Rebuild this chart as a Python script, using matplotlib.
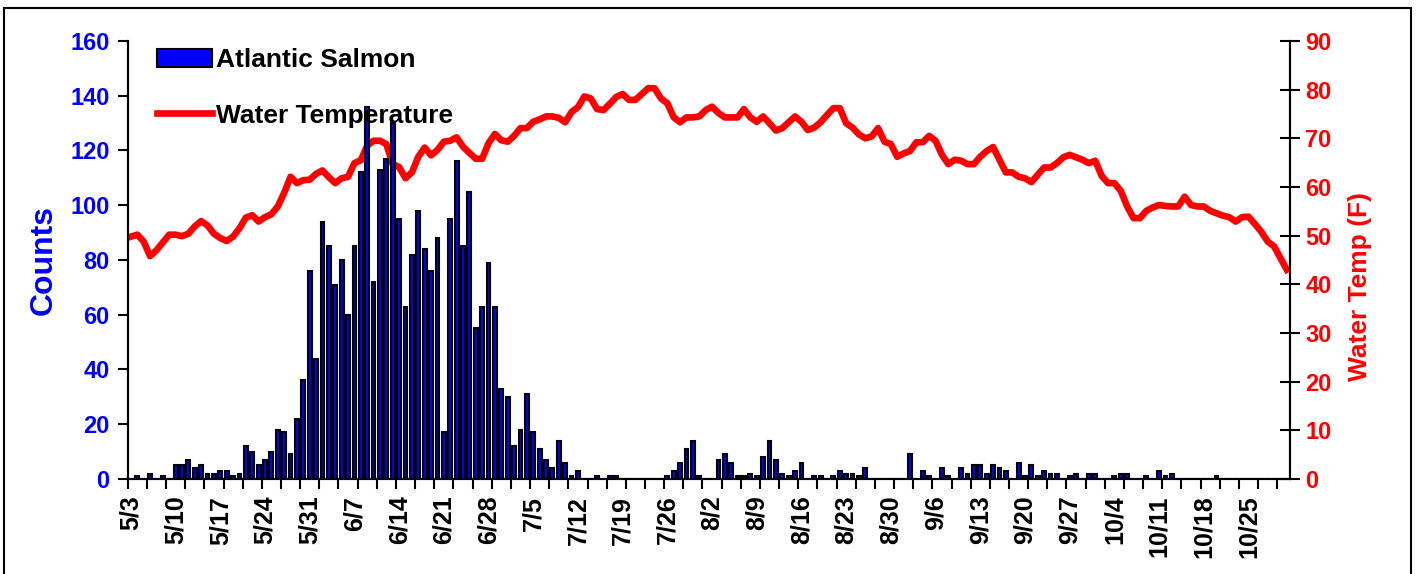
import numpy as np
import matplotlib
matplotlib.use("Agg")
import matplotlib.pyplot as plt
from matplotlib.patches import Rectangle
from matplotlib.ticker import FixedLocator

# daily data, 5/3 .. 10/31
counts = [
    0, 1, 0, 2, 0, 1, 0, 5, 5, 7,
    4, 5, 2, 2, 3, 3, 1, 2, 12, 10,
    5, 7, 10, 18, 17, 9, 22, 36, 76, 44,
    94, 85, 71, 80, 60, 85, 112, 136, 72, 113,
    117, 130, 95, 63, 82, 98, 84, 76, 88, 17,
    95, 116, 85, 105, 55, 63, 79, 63, 33, 30,
    12, 18, 31, 17, 11, 7, 4, 14, 6, 1,
    3, 0, 0, 1, 0, 1, 1, 0, 0, 0,
    0, 0, 0, 0, 1, 3, 6, 11, 14, 1,
    0, 0, 7, 9, 6, 1, 1, 2, 1, 8,
    14, 7, 2, 1, 3, 6, 0, 1, 1, 0,
    1, 3, 2, 2, 1, 4, 0, 0, 0, 0,
    0, 0, 9, 0, 3, 1, 0, 4, 1, 0,
    4, 2, 5, 5, 2, 5, 4, 3, 0, 6,
    1, 5, 1, 3, 2, 2, 0, 1, 2, 0,
    2, 2, 0, 0, 1, 2, 2, 0, 0, 1,
    0, 3, 1, 2, 0, 0, 0, 0, 0, 0,
    1, 0, 0, 0, 0, 0, 0, 0, 0, 0,
    0, 0,
]

water_temp = [
    49.8, 50.2, 48.8, 45.8, 47.0, 48.6, 50.2, 50.2, 49.9, 50.4,
    51.9, 53.0, 52.1, 50.4, 49.5, 48.9, 49.8, 51.5, 53.7, 54.2,
    52.9, 53.8, 54.4, 56.0, 58.8, 62.1, 60.8, 61.4, 61.5, 62.7,
    63.4, 62.0, 60.8, 61.8, 62.1, 64.9, 65.5, 68.5, 69.5, 69.5,
    68.8, 64.7, 64.1, 61.8, 63.0, 66.2, 68.1, 66.5, 67.6, 69.3,
    69.5, 70.2, 68.3, 67.0, 65.8, 65.8, 69.0, 70.9, 69.6, 69.3,
    70.5, 72.1, 72.1, 73.4, 73.9, 74.5, 74.5, 74.2, 73.3, 75.4,
    76.4, 78.6, 78.2, 76.0, 75.8, 77.1, 78.5, 79.1, 77.9, 77.9,
    79.1, 80.3, 80.3, 78.2, 77.2, 74.3, 73.3, 74.3, 74.3, 74.5,
    75.8, 76.5, 75.2, 74.3, 74.3, 74.3, 76.0, 74.3, 73.4, 74.5,
    73.1, 71.6, 72.1, 73.3, 74.5, 73.4, 71.7, 72.2, 73.3, 74.8,
    76.2, 76.2, 73.1, 72.2, 70.8, 70.0, 70.4, 72.1, 69.3, 68.8,
    66.2, 66.9, 67.4, 69.2, 69.2, 70.5, 69.5, 66.6, 64.7, 65.6,
    65.4, 64.7, 64.7, 66.2, 67.4, 68.2, 65.6, 63.0, 63.0, 62.1,
    61.8, 61.0, 62.5, 64.0, 64.0, 64.9, 66.1, 66.6, 66.1, 65.6,
    64.9, 65.4, 62.3, 60.8, 60.8, 59.2, 56.0, 53.6, 53.6, 55.1,
    55.8, 56.3, 56.1, 56.0, 56.0, 58.0, 56.3, 56.0, 56.0, 55.1,
    54.6, 54.1, 53.8, 52.9, 53.8, 53.9, 52.4, 50.8, 48.8, 47.8,
    45.4, 43.0,
]

week_labels = ["5/3", "5/10", "5/17", "5/24", "5/31", "6/7", "6/14", "6/21",
               "6/28", "7/5", "7/12", "7/19", "7/26", "8/2", "8/9", "8/16",
               "8/23", "8/30", "9/6", "9/13", "9/20", "9/27", "10/4", "10/11",
               "10/18", "10/25"]

plt.rcParams["font.family"] = ["Liberation Sans", "DejaVu Sans"]
plt.rcParams["font.weight"] = "bold"

days = np.arange(len(counts))

fig = plt.figure(figsize=(14.19, 5.74), dpi=100)
ax = fig.add_axes([0.0900, 0.1655, 0.8191, 0.7631])
ax2 = ax.twinx()

bars = ax.bar(days, counts, width=0.6, color="#0000FF", edgecolor="black",
              linewidth=1.5, label="Atlantic Salmon", zorder=2)
line, = ax2.plot(days, water_temp, color="#FF0000", linewidth=4.8,
                 label="Water Temperature", solid_joinstyle="round")

ax.set_xlim(-0.5, len(counts) - 0.5)
ax.set_ylim(0, 160)
ax2.set_ylim(0, 90)

# x axis: labels weekly, tick marks every 3 days on category edges
ax.set_xticks(np.arange(0, len(counts), 7))
ax.set_xticklabels(week_labels, rotation=90, va="top", ha="center",
                   fontsize=18, fontweight="bold")
ax.tick_params(axis="x", which="major", length=0, pad=12)
ax.xaxis.set_minor_locator(FixedLocator(np.arange(-0.5, len(counts), 3)))
ax.tick_params(axis="x", which="minor", length=7, width=1.5, direction="out")

ax.set_yticks(np.arange(0, 161, 20))
ax.tick_params(axis="y", length=7, width=1.5, direction="out", pad=6,
               labelsize=17, labelcolor="#0000FF")
ax2.set_yticks(np.arange(0, 91, 10))
ax2.tick_params(axis="y", length=14, width=1.5, direction="inout", pad=4,
                labelsize=17, labelcolor="#FF0000")

ax.set_ylabel("Counts", color="#0000FF", fontsize=23, fontweight="bold",
              labelpad=8)
ax2.set_ylabel("Water Temp (F)", color="#FF0000", fontsize=19,
               fontweight="bold")
ax2.yaxis.set_label_coords(1.05, 0.44)

for a in (ax, ax2):
    a.spines["top"].set_visible(False)
    a.spines["left"].set_linewidth(1.5)
    a.spines["right"].set_linewidth(1.5)
    a.spines["bottom"].set_linewidth(1.5)

leg = ax.legend([bars, line], ["Atlantic Salmon", "Water Temperature"],
                loc="upper left", bbox_to_anchor=(0.016, 1.008), frameon=False,
                fontsize=19, handlelength=2.1, handleheight=0.7,
                handletextpad=0.15, labelspacing=1.2, borderaxespad=0)
for t in leg.get_texts():
    t.set_fontweight("bold")
ax.set_zorder(ax2.get_zorder() + 1)
ax.patch.set_visible(False)

# chart border
fig.add_artist(Rectangle((4 / 1419, -0.01), 1407 / 1419, 0.996,
                         transform=fig.transFigure, fill=False,
                         edgecolor="black", linewidth=1.5))

fig.savefig("out.png", dpi=100)
